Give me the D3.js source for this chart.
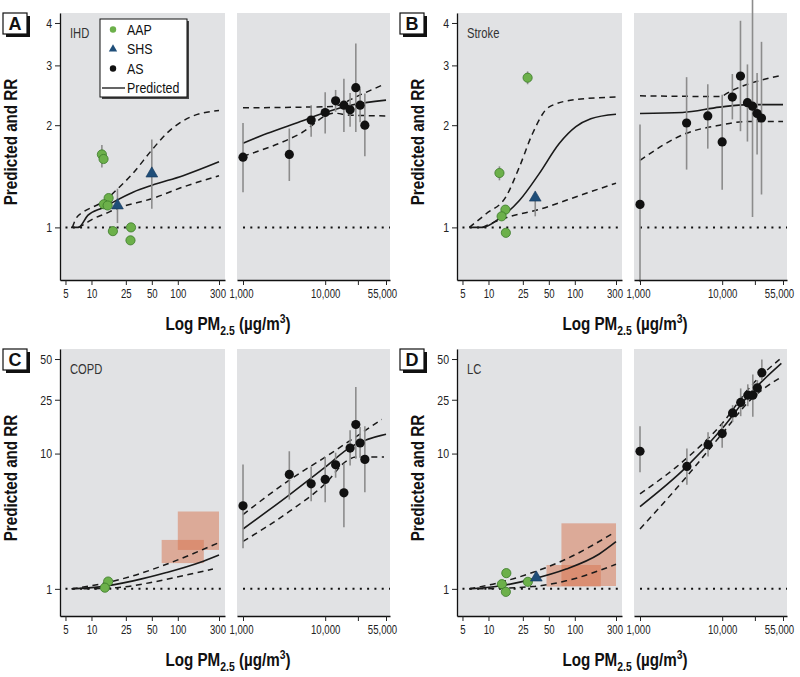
<!DOCTYPE html>
<html><head><meta charset="utf-8">
<script src="https://cdn.jsdelivr.net/npm/d3@7"></script>
<style>
body{margin:0;background:#fff;}
svg{display:block;}
text{font-family:"Liberation Sans",Arial,sans-serif;}
</style></head>
<body><svg id="c" width="800" height="677"></svg>
<script>
// ---------- DATA ----------
const xTicksLow = [5, 10, 25, 50, 100, 300];
const xTicksHigh = [1000, 10000, 25000, 55000];
const xTickLabelsHigh = ["1,000", "10,000", "", "55,000"];
const yTicksTop = [1, 2, 3, 4];
const yTicksBottom = [1, 10, 25, 50];
const legendLabels = ["AAP", "SHS", "AS", "Predicted"];

// [PM2.5, RR, lower, upper]
const ihdAAP = [[13.2,1.64,1.50,1.75],[13.8,1.59,1.56,1.62],[15.8,1.22,1.19,1.25],[13.9,1.17,1.15,1.19],[15.4,1.16,1.14,1.18],[17.7,0.975,0.95,1.0],[28.7,1.0,0.98,1.02],[28.3,0.916,0.90,0.93]];
const ihdSHS = [[20,1.16,1.03,1.30],[50,1.44,1.135,1.815]];
const ihdAS = [[1000,1.61,1.27,2.03],[3660,1.64,1.37,1.955],[6750,2.07,1.85,2.29],[10000,2.18,1.89,2.50],[13400,2.36,2.19,2.54],[16900,2.29,1.91,2.74],[20100,2.22,1.98,2.49],[23600,2.58,1.91,3.48],[26600,2.29,2.04,2.56],[30400,2.0,1.62,2.48]];
const ihdPredLow = [[5.8,1.0],[7.07,1.0],[9.06,1.085],[13.5,1.143],[30.3,1.27],[50,1.33],[115,1.42],[300,1.56]];
const ihdUpperLow = [[6.0,1.0],[6.6,1.06],[8.0,1.11],[10.5,1.15],[13.7,1.19],[19.5,1.29],[30,1.44],[50,1.69],[74,1.89],[138,2.11],[300,2.21]];
const ihdLowerLow = [[7.04,1.0],[8.42,1.025],[10.5,1.061],[14.4,1.097],[19.4,1.135],[50,1.215],[115,1.315],[300,1.42]];
const ihdPredHigh = [[1000,1.77],[1950,1.89],[5000,2.05],[10000,2.18],[20500,2.29],[55000,2.37]];
const ihdUpperHigh = [[1000,2.25],[5000,2.26],[12000,2.27],[27000,2.46],[52000,2.64]];
const ihdLowerHigh = [[1000,1.62],[5000,1.89],[12800,2.17],[20000,2.14],[55000,2.13]];

const strokeAAP = [[28.4,2.76,2.64,2.88],[13.4,1.446,1.376,1.513],[15.7,1.128,1.10,1.15],[14.2,1.078,1.06,1.10],[15.9,0.964,0.94,0.98]];
const strokeSHS = [[34.8,1.223,1.078,1.25]];
const strokeAS = [[1000,1.169,0.69,2.01],[3690,2.03,1.48,2.77],[6680,2.13,1.706,2.64],[10000,1.786,1.29,2.46],[13300,2.42,2.08,2.83],[16700,2.79,1.92,4.06],[20300,2.33,1.79,3.02],[23400,2.275,1.073,4.7],[26600,2.165,1.64,2.85],[30100,2.10,1.25,3.52]];
const strokePredLow = [[6,1.0],[8.6,1.0],[13.4,1.063],[22.8,1.20],[38.7,1.44],[66,1.766],[103,1.98],[153,2.09],[300,2.155]];
const strokeUpperLow = [[6,1.0],[9.4,1.097],[15.9,1.23],[22.8,1.506],[32.4,1.89],[50,2.26],[103,2.38],[300,2.42]];
const strokeLowerLow = [[8.5,1.0],[12,1.04],[17.5,1.075],[38.7,1.13],[123,1.25],[300,1.35]];
const strokePredHigh = [[1000,2.165],[3300,2.18],[9300,2.26],[20500,2.30],[55000,2.30]];
const strokeUpperHigh = [[1000,2.44],[9300,2.43],[13500,2.54],[55000,2.81]];
const strokeLowerHigh = [[1000,1.576],[3600,1.89],[9300,2.0],[19700,2.05],[55000,2.05]];

const copdAAP = [[15.6,1.133,1.10,1.17],[14.3,1.02,0.99,1.05]];
const copdSHS = [];
const copdAS = [[1000,4.11,2.0,8.32],[3660,7.01,4.57,10.4],[6750,5.98,4.44,8.04],[10000,6.44,4.37,9.42],[13400,8.27,6.63,10.15],[16900,5.13,2.85,8.41],[20100,10.99,8.17,14.9],[23600,16.4,9.17,31.1],[26600,11.97,9.32,15.7],[30400,9.06,5.18,15.9]];
// [x0, x1, y0, y1]
const copdRanges = [[100,300,1.94,3.73],[65,200,1.55,2.3]];
const copdPredLow = [[5.9,1.0],[12.5,1.035],[30.4,1.146],[73.9,1.32],[179.5,1.567],[300,1.78]];
const copdUpperLow = [[5.9,1.0],[12.5,1.083],[30.4,1.25],[73.9,1.52],[300,2.2]];
const copdLowerLow = [[8.1,1.0],[19.5,1.02],[47.4,1.11],[115,1.25],[255,1.40]];
const copdPredHigh = [[1000,2.77],[3700,4.98],[10000,7.94],[20500,11.2],[55000,13.9]];
const copdUpperHigh = [[1000,3.54],[3700,6.4],[10000,9.42],[23600,13.3],[48700,17.9]];
const copdLowerHigh = [[1000,2.24],[3700,3.75],[10000,5.98],[18600,8.9],[23600,9.42],[52000,9.42]];

const lcAAP = [[16.1,1.307,1.28,1.33],[14.3,1.083,1.06,1.10],[15.9,0.95,0.93,0.97],[28.6,1.127,1.10,1.15]];
const lcSHS = [[35.8,1.21,1.17,1.25]];
const lcAS = [[1000,10.4,7.29,15.9],[3720,8.04,5.88,10.9],[6730,11.64,9.53,14.4],[10000,14.05,11.06,16.7],[13400,19.97,17.1,22.8],[16800,23.9,18.9,30.3],[20500,27.0,22.4,32.5],[23600,27.0,18.7,38.5],[26800,30.6,27.5,34.9],[30400,39.6,34.9,49.7]];
const lcRanges = [[70,300,1.05,3.05],[47,200,1.04,1.5]];
const lcPredLow = [[6,1.0],[13.4,1.05],[32.4,1.18],[79.4,1.40],[192,1.81],[300,2.23]];
const lcUpperLow = [[6,1.0],[13.4,1.114],[32.4,1.32],[79.4,1.66],[290,2.62]];
const lcLowerLow = [[7.5,1.0],[32.4,1.04],[79.4,1.146],[300,1.52]];
const lcPredHigh = [[1000,4.06],[3650,7.94],[10000,15.3],[21900,27.8],[52500,46.4]];
const lcUpperHigh = [[1000,5.04],[3650,9.17],[10000,16.7],[21900,31.1],[50000,49.7]];
const lcLowerHigh = [[1000,2.77],[3650,6.7],[10000,14.05],[21900,24.8],[51500,36.6]];

// ---------- LAYOUT ----------
const panels = [
  {letter:"A", name:"IHD", ox:0, oy:0, yDomain:[0.70,4.28], yTicks:yTicksTop,
   aap:ihdAAP, shs:ihdSHS, as:ihdAS, ranges:[], legend:true, ylx:17,
   low:[ihdPredLow, ihdUpperLow, ihdLowerLow], high:[ihdPredHigh, ihdUpperHigh, ihdLowerHigh]},
  {letter:"B", name:"Stroke", ox:397, oy:0, yDomain:[0.70,4.28], yTicks:yTicksTop,
   aap:strokeAAP, shs:strokeSHS, as:strokeAS, ranges:[], ylx:424,
   low:[strokePredLow, strokeUpperLow, strokeLowerLow], high:[strokePredHigh, strokeUpperHigh, strokeLowerHigh]},
  {letter:"C", name:"COPD", ox:0, oy:336, yDomain:[0.63,59.3], yTicks:yTicksBottom,
   aap:copdAAP, shs:copdSHS, as:copdAS, ranges:copdRanges, ylx:17,
   low:[copdPredLow, copdUpperLow, copdLowerLow], high:[copdPredHigh, copdUpperHigh, copdLowerHigh]},
  {letter:"D", name:"LC", ox:397, oy:336, yDomain:[0.63,59.3], yTicks:yTicksBottom,
   aap:lcAAP, shs:lcSHS, as:lcAS, ranges:lcRanges, ylx:424,
   low:[lcPredLow, lcUpperLow, lcLowerLow], high:[lcPredHigh, lcUpperHigh, lcLowerHigh]}
];

const svg = d3.select("#c");
const BG = "#e1e2e4";
const GREEN = "#6cb04a", GREEN_S = "#3b7a2a", BLUE = "#1f4e79", ERR = "#8c8c8c";
const FONT = '"Liberation Sans",Arial,sans-serif';
const NARROW = 0.8, TICK_NARROW = 0.78;

panels.forEach(p => {
  const g = svg.append("g");
  const x1 = d3.scaleLog().domain([4.32, 352]).range([p.ox + 60, p.ox + 225]);
  const x2 = d3.scaleLog().domain([845, 61500]).range([p.ox + 237, p.ox + 390]);
  const y = d3.scaleLog().domain(p.yDomain).range([p.oy + 280, p.oy + 13]);

  [x1, x2].forEach(x => {
    const r = x.range();
    g.append("rect").attr("x", r[0]).attr("y", p.oy + 13).attr("width", r[1] - r[0])
      .attr("height", 267).attr("fill", BG);
  });

  p.ranges.forEach(r => {
    g.append("rect").attr("x", x1(r[0])).attr("y", y(r[3]))
      .attr("width", x1(r[1]) - x1(r[0])).attr("height", y(r[2]) - y(r[3]))
      .attr("fill", "#d7724c").attr("fill-opacity", 0.5);
  });

  [[x1, 5], [x2, 1000]].forEach(([x, s]) => {
    g.append("line").attr("x1", x(s)).attr("x2", x.range()[1])
      .attr("y1", y(1)).attr("y2", y(1))
      .attr("stroke", "#111").attr("stroke-width", 2).attr("stroke-dasharray", "2,5.3");
  });

  [[x1, p.low], [x2, p.high]].forEach(([x, sets]) => {
    const line = d3.line().x(d => x(d[0])).y(d => y(d[1])).curve(d3.curveMonotoneX);
    sets.forEach((s, i) => {
      g.append("path").attr("d", line(s)).attr("fill", "none")
        .attr("stroke", "#1a1a1a").attr("stroke-width", i === 0 ? 1.6 : 1.5)
        .attr("stroke-dasharray", i === 0 ? null : "6,4.5");
    });
  });

  [[x1, p.aap], [x1, p.shs], [x2, p.as]].forEach(([x, data]) => {
    data.forEach(d => {
      g.append("line").attr("x1", x(d[0])).attr("x2", x(d[0]))
        .attr("y1", y(d[2])).attr("y2", y(d[3]))
        .attr("stroke", ERR).attr("stroke-width", 1.6);
    });
  });

  p.aap.forEach(d => {
    g.append("circle").attr("cx", x1(d[0])).attr("cy", y(d[1])).attr("r", 4.6)
      .attr("fill", GREEN).attr("stroke", GREEN_S).attr("stroke-width", 0.8);
  });
  p.shs.forEach(d => {
    g.append("path").attr("d", d3.symbol(d3.symbolTriangle, 60)())
      .attr("transform", `translate(${x1(d[0])},${y(d[1])})`)
      .attr("fill", BLUE).attr("stroke", "#16385a").attr("stroke-width", 0.6);
  });
  p.as.forEach(d => {
    g.append("circle").attr("cx", x2(d[0])).attr("cy", y(d[1])).attr("r", 4.6).attr("fill", "#111");
  });

  const ya = g.append("g").attr("transform", `translate(${p.ox + 60},0)`)
    .call(d3.axisLeft(y).tickValues(p.yTicks).tickFormat(d3.format("d")).tickSize(5).tickSizeOuter(0));
  const xa1 = g.append("g").attr("transform", `translate(0,${p.oy + 280})`)
    .call(d3.axisBottom(x1).tickValues(xTicksLow).tickFormat(d3.format("d")).tickSize(5).tickSizeOuter(0));
  const xa2 = g.append("g").attr("transform", `translate(0,${p.oy + 280})`)
    .call(d3.axisBottom(x2).tickValues(xTicksHigh).tickFormat((d, i) => xTickLabelsHigh[i]).tickSize(5).tickSizeOuter(0));
  [ya, xa1, xa2].forEach(a => {
    a.selectAll("text").attr("font-family", FONT).attr("font-size", 12.3).attr("fill", "#222").classed("ticklab", true);
    a.selectAll("line").attr("stroke", "#222");
    a.select(".domain").attr("stroke", "#111").attr("stroke-width", 1.3);
  });
  ya.selectAll("text").attr("x", -8).attr("font-size", 13.5);
  xa1.selectAll("text").attr("y", 9);
  xa2.selectAll("text").attr("y", 9);
  xa1.selectAll("text").filter(d => d === 300).attr("x", -1.5);
  xa2.selectAll("text").filter(d => d === 1000).attr("x", -2);
  xa2.selectAll("text").filter(d => d === 55000).attr("x", -4);

  g.append("text").attr("x", p.ox + 70).attr("y", p.oy + 38).text(p.name).classed("narrow", true)
    .attr("font-family", FONT).attr("font-size", 14).attr("fill", "#333");

  const xt = g.append("g").attr("transform", `translate(${p.ox + 228},${p.oy + 330}) scale(${NARROW},1)`)
    .append("text").attr("text-anchor", "middle").attr("font-family", FONT).attr("font-size", 19)
    .attr("font-weight", "bold").attr("fill", "#111");
  xt.append("tspan").text("Log PM");
  xt.append("tspan").text("2.5").attr("font-size", 13).attr("dy", 5);
  xt.append("tspan").text(" (µg/m").attr("dy", -5);
  xt.append("tspan").text("3").attr("font-size", 13).attr("dy", -7);
  xt.append("tspan").text(")").attr("dy", 7);

  g.append("g").attr("transform", `translate(${p.ylx},${p.oy + 142}) rotate(-90) scale(${NARROW},1)`)
    .append("text").attr("text-anchor", "middle").attr("font-family", FONT).attr("font-size", 19)
    .attr("font-weight", "bold").attr("fill", "#111").text("Predicted and RR");

  const bx = p.ox + 3, by = p.oy + 13;
  g.append("rect").attr("x", bx + 3).attr("y", by + 3).attr("width", 24).attr("height", 21).attr("fill", "#111");
  g.append("rect").attr("x", bx).attr("y", by).attr("width", 24).attr("height", 21)
    .attr("fill", "#fff").attr("stroke", "#111").attr("stroke-width", 1.2);
  g.append("text").attr("x", bx + 12).attr("y", by + 17).attr("text-anchor", "middle")
    .attr("font-family", FONT).attr("font-size", 18).attr("font-weight", "bold").attr("fill", "#111").text(p.letter);

  if (p.legend) {
    const lx = 100, ly = 19, lw = 87, lh = 78;
    g.append("rect").attr("x", lx + 2).attr("y", ly + 2).attr("width", lw).attr("height", lh).attr("fill", "#444");
    g.append("rect").attr("x", lx).attr("y", ly).attr("width", lw).attr("height", lh)
      .attr("fill", "#fff").attr("stroke", "#111").attr("stroke-width", 1);
    const rows = [29.5, 49, 68.5, 88];
    g.append("circle").attr("cx", 113).attr("cy", rows[0]).attr("r", 3.2).attr("fill", GREEN);
    g.append("path").attr("d", d3.symbol(d3.symbolTriangle, 30)()).attr("transform", `translate(113,${rows[1]})`).attr("fill", BLUE);
    g.append("circle").attr("cx", 113).attr("cy", rows[2]).attr("r", 3.2).attr("fill", "#111");
    g.append("line").attr("x1", 102).attr("x2", 125).attr("y1", rows[3]).attr("y2", rows[3]).attr("stroke", "#111").attr("stroke-width", 1.3);
    legendLabels.forEach((t, i) => {
      g.append("text").attr("x", 127).attr("y", rows[i] + 5).text(t).classed("narrow", true)
        .attr("font-family", FONT).attr("font-size", 15.5).attr("fill", "#111");
    });
  }
});

function condense(sel, f) {
  sel.each(function () {
    const len = this.getComputedTextLength();
    if (len > 0) d3.select(this).attr("textLength", len * f).attr("lengthAdjust", "spacingAndGlyphs");
  });
}
condense(svg.selectAll("text.narrow"), NARROW);
condense(svg.selectAll("text.ticklab"), TICK_NARROW);
</script></body></html>
